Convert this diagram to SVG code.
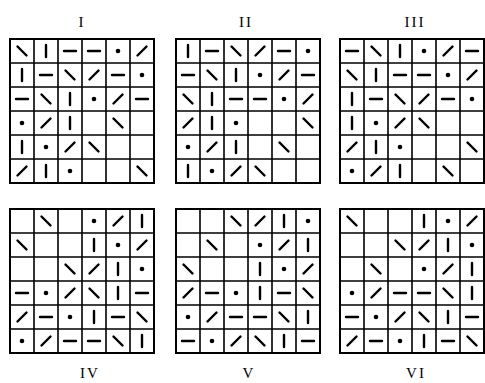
<svg xmlns="http://www.w3.org/2000/svg" xmlns:xlink="http://www.w3.org/1999/xlink" width="485" height="383" viewBox="0 0 485 383">
<style>
.bg{fill:#fff}
.grid{fill:none;stroke:#000;stroke-width:1.6}
.border{fill:none;stroke:#000;stroke-width:2}
.m{stroke:#000;stroke-width:2.4;stroke-linecap:round;fill:none}
.dot{fill:#000}
.lbl{font-family:"Liberation Serif","DejaVu Serif",serif;font-size:15px;fill:#000;text-anchor:middle;letter-spacing:2px}
</style>
<defs>
<path id="b" class="m" d="M-4.5,-4.5L4.5,4.5"/>
<path id="s" class="m" d="M-4.5,4.5L4.5,-4.5"/>
<path id="v" class="m" d="M0,-6L0,6"/>
<path id="h" class="m" d="M-6,0L6,0"/>
<circle id="d" class="dot" r="2.3"/>
<g id="gridlines">
<path class="grid" d="M24,0V144M48,0V144M72,0V144M96,0V144M120,0V144M0,24H144M0,48H144M0,72H144M0,96H144M0,120H144"/>
<rect class="border" x="0" y="0" width="144" height="144"/>
</g>
</defs>
<rect class="bg" width="485" height="383"/>

<g id="grid-I" transform="translate(10,39)">
<use href="#gridlines"/>
<g transform="translate(12,12)">
<use href="#b" x="0" y="0"/><use href="#v" x="24" y="0"/><use href="#h" x="48" y="0"/><use href="#h" x="72" y="0"/><use href="#d" x="96" y="0"/><use href="#s" x="120" y="0"/>
<use href="#v" x="0" y="24"/><use href="#h" x="24" y="24"/><use href="#b" x="48" y="24"/><use href="#s" x="72" y="24"/><use href="#h" x="96" y="24"/><use href="#d" x="120" y="24"/>
<use href="#h" x="0" y="48"/><use href="#b" x="24" y="48"/><use href="#v" x="48" y="48"/><use href="#d" x="72" y="48"/><use href="#s" x="96" y="48"/><use href="#h" x="120" y="48"/>
<use href="#d" x="0" y="72"/><use href="#s" x="24" y="72"/><use href="#v" x="48" y="72"/><use href="#b" x="96" y="72"/>
<use href="#v" x="0" y="96"/><use href="#d" x="24" y="96"/><use href="#s" x="48" y="96"/><use href="#b" x="72" y="96"/>
<use href="#s" x="0" y="120"/><use href="#v" x="24" y="120"/><use href="#d" x="48" y="120"/><use href="#b" x="120" y="120"/>
</g>
</g>

<g id="grid-II" transform="translate(176,39)">
<use href="#gridlines"/>
<g transform="translate(12,12)">
<use href="#v" x="0" y="0"/><use href="#h" x="24" y="0"/><use href="#b" x="48" y="0"/><use href="#s" x="72" y="0"/><use href="#h" x="96" y="0"/><use href="#d" x="120" y="0"/>
<use href="#h" x="0" y="24"/><use href="#b" x="24" y="24"/><use href="#v" x="48" y="24"/><use href="#d" x="72" y="24"/><use href="#s" x="96" y="24"/><use href="#h" x="120" y="24"/>
<use href="#b" x="0" y="48"/><use href="#v" x="24" y="48"/><use href="#h" x="48" y="48"/><use href="#h" x="72" y="48"/><use href="#d" x="96" y="48"/><use href="#s" x="120" y="48"/>
<use href="#s" x="0" y="72"/><use href="#v" x="24" y="72"/><use href="#d" x="48" y="72"/><use href="#b" x="120" y="72"/>
<use href="#d" x="0" y="96"/><use href="#s" x="24" y="96"/><use href="#v" x="48" y="96"/><use href="#b" x="96" y="96"/>
<use href="#v" x="0" y="120"/><use href="#d" x="24" y="120"/><use href="#s" x="48" y="120"/><use href="#b" x="72" y="120"/>
</g>
</g>

<g id="grid-III" transform="translate(340,39)">
<use href="#gridlines"/>
<g transform="translate(12,12)">
<use href="#h" x="0" y="0"/><use href="#b" x="24" y="0"/><use href="#v" x="48" y="0"/><use href="#d" x="72" y="0"/><use href="#s" x="96" y="0"/><use href="#h" x="120" y="0"/>
<use href="#b" x="0" y="24"/><use href="#v" x="24" y="24"/><use href="#h" x="48" y="24"/><use href="#h" x="72" y="24"/><use href="#d" x="96" y="24"/><use href="#s" x="120" y="24"/>
<use href="#v" x="0" y="48"/><use href="#h" x="24" y="48"/><use href="#b" x="48" y="48"/><use href="#s" x="72" y="48"/><use href="#h" x="96" y="48"/><use href="#d" x="120" y="48"/>
<use href="#v" x="0" y="72"/><use href="#d" x="24" y="72"/><use href="#s" x="48" y="72"/><use href="#b" x="72" y="72"/>
<use href="#s" x="0" y="96"/><use href="#v" x="24" y="96"/><use href="#d" x="48" y="96"/><use href="#b" x="120" y="96"/>
<use href="#d" x="0" y="120"/><use href="#s" x="24" y="120"/><use href="#v" x="48" y="120"/><use href="#b" x="96" y="120"/>
</g>
</g>

<g id="grid-IV" transform="translate(10,209)">
<use href="#gridlines"/>
<g transform="translate(12,12)">
<use href="#b" x="24" y="0"/><use href="#d" x="72" y="0"/><use href="#s" x="96" y="0"/><use href="#v" x="120" y="0"/>
<use href="#b" x="0" y="24"/><use href="#v" x="72" y="24"/><use href="#d" x="96" y="24"/><use href="#s" x="120" y="24"/>
<use href="#b" x="48" y="48"/><use href="#s" x="72" y="48"/><use href="#v" x="96" y="48"/><use href="#d" x="120" y="48"/>
<use href="#h" x="0" y="72"/><use href="#d" x="24" y="72"/><use href="#s" x="48" y="72"/><use href="#b" x="72" y="72"/><use href="#v" x="96" y="72"/><use href="#h" x="120" y="72"/>
<use href="#s" x="0" y="96"/><use href="#h" x="24" y="96"/><use href="#d" x="48" y="96"/><use href="#v" x="72" y="96"/><use href="#h" x="96" y="96"/><use href="#b" x="120" y="96"/>
<use href="#d" x="0" y="120"/><use href="#s" x="24" y="120"/><use href="#h" x="48" y="120"/><use href="#h" x="72" y="120"/><use href="#b" x="96" y="120"/><use href="#v" x="120" y="120"/>
</g>
</g>

<g id="grid-V" transform="translate(176,209)">
<use href="#gridlines"/>
<g transform="translate(12,12)">
<use href="#b" x="48" y="0"/><use href="#s" x="72" y="0"/><use href="#v" x="96" y="0"/><use href="#d" x="120" y="0"/>
<use href="#b" x="24" y="24"/><use href="#d" x="72" y="24"/><use href="#s" x="96" y="24"/><use href="#v" x="120" y="24"/>
<use href="#b" x="0" y="48"/><use href="#v" x="72" y="48"/><use href="#d" x="96" y="48"/><use href="#s" x="120" y="48"/>
<use href="#s" x="0" y="72"/><use href="#h" x="24" y="72"/><use href="#d" x="48" y="72"/><use href="#v" x="72" y="72"/><use href="#h" x="96" y="72"/><use href="#b" x="120" y="72"/>
<use href="#d" x="0" y="96"/><use href="#s" x="24" y="96"/><use href="#h" x="48" y="96"/><use href="#h" x="72" y="96"/><use href="#b" x="96" y="96"/><use href="#v" x="120" y="96"/>
<use href="#h" x="0" y="120"/><use href="#d" x="24" y="120"/><use href="#s" x="48" y="120"/><use href="#b" x="72" y="120"/><use href="#v" x="96" y="120"/><use href="#h" x="120" y="120"/>
</g>
</g>

<g id="grid-VI" transform="translate(340,209)">
<use href="#gridlines"/>
<g transform="translate(12,12)">
<use href="#b" x="0" y="0"/><use href="#v" x="72" y="0"/><use href="#d" x="96" y="0"/><use href="#s" x="120" y="0"/>
<use href="#b" x="48" y="24"/><use href="#s" x="72" y="24"/><use href="#v" x="96" y="24"/><use href="#d" x="120" y="24"/>
<use href="#b" x="24" y="48"/><use href="#d" x="72" y="48"/><use href="#s" x="96" y="48"/><use href="#v" x="120" y="48"/>
<use href="#d" x="0" y="72"/><use href="#s" x="24" y="72"/><use href="#h" x="48" y="72"/><use href="#h" x="72" y="72"/><use href="#b" x="96" y="72"/><use href="#v" x="120" y="72"/>
<use href="#h" x="0" y="96"/><use href="#d" x="24" y="96"/><use href="#s" x="48" y="96"/><use href="#b" x="72" y="96"/><use href="#v" x="96" y="96"/><use href="#h" x="120" y="96"/>
<use href="#s" x="0" y="120"/><use href="#h" x="24" y="120"/><use href="#d" x="48" y="120"/><use href="#v" x="72" y="120"/><use href="#h" x="96" y="120"/><use href="#b" x="120" y="120"/>
</g>
</g>

<g id="labels">
<text class="lbl" x="82" y="27">I</text>
<text class="lbl" x="246" y="27">II</text>
<text class="lbl" x="415" y="27">III</text>
<text class="lbl" x="90" y="378">IV</text>
<text class="lbl" x="249" y="378">V</text>
<text class="lbl" x="416" y="378">VI</text>
</g>
</svg>
